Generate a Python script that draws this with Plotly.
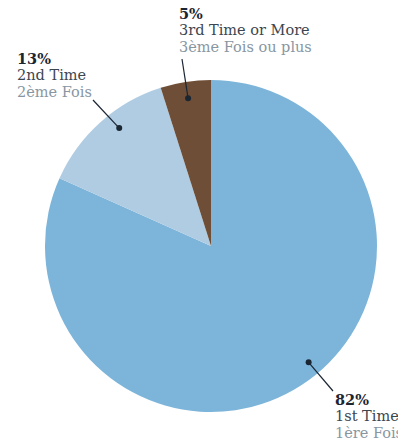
import math
import plotly.graph_objects as go

# slices, clockwise from 12 o'clock
labels_en = ["1st Time", "2nd Time", "3rd Time or More"]
labels_fr = ["1ère Fois", "2ème Fois", "3ème Fois ou plus"]
values = [81.7, 13.4, 4.9]
pct_text = ["82%", "13%", "5%"]
colors = ["#7db5da", "#b0cce2", "#6e4e37"]

W, H = 398, 443
cx, cy, R = 211, 246, 166  # pie centre and radius (px)

# label block: left x and baseline of the first line (px)
label_pos = [(335, 405), (17, 64), (179, 19)]
# where along each slice the marker dot sits (fraction of slice span, fraction of radius)
dot_frac = [0.476, 0.58, 0.5]
dot_r = [0.915, 0.9, 0.9]
# leader line end, relative to label left / first baseline
lead_end = [(-2, -14), (76, 36), (3, 40)]
LINE = 16.5
FS = 14.5


def px(x, y):
    return x / W, 1 - y / H


d0 = px(cx - R, cy + R)
d1 = px(cx + R, cy - R)
fig = go.Figure(go.Pie(
    values=values,
    labels=labels_en,
    marker=dict(colors=colors, line=dict(width=0)),
    sort=False,
    direction="clockwise",
    rotation=0,
    textinfo="none",
    hoverinfo="label+percent",
    domain=dict(x=[d0[0], d1[0]], y=[d0[1], d1[1]]),
))

shapes = []
annotations = []
total = sum(values)
cum = 0
line_colors = ["#1b2633", "#3c4650", "#8896a2"]
for i, v in enumerate(values):
    ang = (cum + v * dot_frac[i]) / total * 2 * math.pi
    cum += v
    dx = cx + dot_r[i] * R * math.sin(ang)
    dy = cy - dot_r[i] * R * math.cos(ang)
    lx, ly = label_pos[i]
    ex, ey = lx + lead_end[i][0], ly + lead_end[i][1]
    x0, y0 = px(dx, dy)
    x1, y1 = px(ex, ey)
    shapes.append(dict(type="line", xref="paper", yref="paper", x0=x0, y0=y0, x1=x1, y1=y1,
                       line=dict(color="#1b2633", width=1.2)))
    r = 3
    a0 = px(dx - r, dy + r)
    a1 = px(dx + r, dy - r)
    shapes.append(dict(type="circle", xref="paper", yref="paper",
                       x0=a0[0], y0=a0[1], x1=a1[0], y1=a1[1],
                       fillcolor="#1b2633", line=dict(width=0)))
    texts = [f"<b>{pct_text[i]}</b>", labels_en[i], labels_fr[i]]
    for k, t in enumerate(texts):
        base = ly + k * LINE
        tx, ty = px(lx, base - 0.36 * FS)
        annotations.append(dict(
            xref="paper", yref="paper", x=tx, y=ty, xanchor="left", yanchor="middle",
            showarrow=False, align="left", text=t, borderpad=0, borderwidth=0,
            font=dict(family="DejaVu Serif", size=FS, color=line_colors[k]),
        ))

fig.update_layout(
    width=W, height=H,
    margin=dict(l=0, r=0, t=0, b=0),
    paper_bgcolor="white",
    showlegend=False,
    shapes=shapes,
    annotations=annotations,
)

# drop the default page margin so the figure fills the window exactly
fig.write_html("out.html", config={"displayModeBar": False},
               post_script="document.body.style.margin='0';document.body.style.overflow='hidden';")
